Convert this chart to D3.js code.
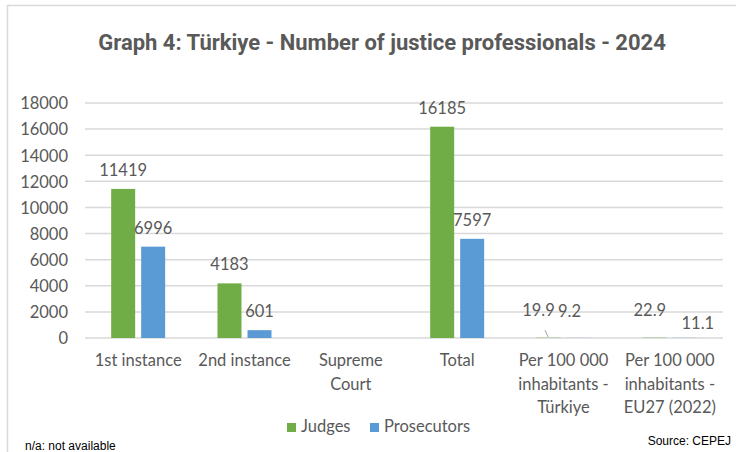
<!DOCTYPE html>
<html>
<head>
<meta charset="utf-8">
<style>
  body { margin: 0; background: #fff; }
  svg text { fill: #595959; }
  .tick text { font-family: Lato, "Open Sans", sans-serif; font-size: 16.5px; }
  .lbl { font-family: Lato, "Open Sans", sans-serif; font-size: 16.5px; }
  .note { font-family: "Liberation Sans", Arial, sans-serif; font-size: 12px; fill: #000 !important; }
</style>
</head>
<body>
<svg width="736" height="452"></svg>
<script src="https://d3js.org/d3.v7.min.js"></script>
<script>
// data
var categories = ["1st instance", "2nd instance", "Supreme Court", "Total",
                  "Per 100 000 inhabitants - Türkiye", "Per 100 000 inhabitants - EU27 (2022)"];
var categoryLines = [["1st instance"], ["2nd instance"], ["Supreme", "Court"], ["Total"],
                     ["Per 100 000", "inhabitants -", "Türkiye"], ["Per 100 000", "inhabitants -", "EU27 (2022)"]];
var judges = [11419, 4183, null, 16185, 19.9, 22.9];
var prosecutors = [6996, 601, null, 7597, 9.2, 11.1];
var seriesNames = ["Judges", "Prosecutors"];
var yTicks = [0, 2000, 4000, 6000, 8000, 10000, 12000, 14000, 16000, 18000];

var colors = ["#70AD47", "#5B9BD5"];

var svg = d3.select("svg");

// outer frame
svg.append("rect")
    .attr("x", 7.5).attr("y", 5.5)
    .attr("width", 740).attr("height", 460)
    .attr("fill", "none")
    .attr("stroke", "#d9d9d9")
    .attr("stroke-width", 1.5);

svg.append("text")
    .attr("x", 382)
    .attr("y", 50)
    .attr("text-anchor", "middle")
    .style("font-family", "Roboto, sans-serif")
    .style("font-size", "22px")
    .style("font-weight", "bold")
    .text("Graph 4: Türkiye - Number of justice professionals - 2024");

var pLeft = 85, pRight = 723, pTop = 103, pBottom = 338;

var x = d3.scaleBand().domain(categories).range([pLeft, pRight]);
var y = d3.scaleLinear().domain([0, 18000]).range([pBottom, pTop]);

// gridlines
svg.append("g").selectAll("line")
    .data(yTicks)
    .enter().append("line")
    .attr("x1", pLeft).attr("x2", pRight)
    .attr("y1", function (d) { return y(d); })
    .attr("y2", function (d) { return y(d); })
    .attr("stroke", "#d9d9d9")
    .attr("stroke-width", 1.5);

// y axis (labels only)
var yAxis = svg.append("g")
    .attr("transform", "translate(" + (pLeft - 17) + ",0)")
    .call(d3.axisLeft(y).tickValues(yTicks).tickSize(0).tickPadding(0).tickFormat(d3.format("d")));
yAxis.select(".domain").remove();
yAxis.selectAll("text").attr("dy", "0.35em");

// x axis labels
var xAxis = svg.append("g")
    .attr("transform", "translate(0," + pBottom + ")")
    .call(d3.axisBottom(x).tickSize(0).tickFormat(""));
xAxis.select(".domain").remove();
xAxis.selectAll(".tick").each(function (d, i) {
    var t = d3.select(this).append("text")
        .attr("class", "lbl")
        .attr("text-anchor", "middle")
        .attr("y", 28);
    categoryLines[i].forEach(function (line, j) {
        t.append("tspan").attr("x", 0).attr("dy", j === 0 ? 0 : 23.5).text(line);
    });
});

var barW = 24, gap = 6;
var series = [judges, prosecutors];
// label tweaks for the small per-inhabitant values (dragged in the original)
var labelShift = {
    "0-4": [-10, -9], "1-4": [-9, -8], "0-5": [-5, -9], "1-5": [13, 4]
};

series.forEach(function (vals, s) {
    var offset = s === 0 ? -gap / 2 - barW : gap / 2;
    var rows = vals.map(function (v, i) { return { v: v, i: i, c: categories[i] }; })
        .filter(function (d) { return d.v !== null; });

    svg.append("g").selectAll("rect")
        .data(rows)
        .enter().append("rect")
        .attr("x", function (d) { return x(d.c) + x.bandwidth() / 2 + offset; })
        .attr("y", function (d) { return y(d.v); })
        .attr("width", barW)
        .attr("height", function (d) { return pBottom - y(d.v); })
        .attr("fill", colors[s]);

    svg.append("g").selectAll("text")
        .data(rows)
        .enter().append("text")
        .attr("class", "lbl")
        .attr("text-anchor", "middle")
        .attr("x", function (d) {
            var sh = labelShift[s + "-" + d.i] || [0, 0];
            return x(d.c) + x.bandwidth() / 2 + offset + barW / 2 + sh[0];
        })
        .attr("y", function (d) {
            var sh = labelShift[s + "-" + d.i] || [0, 0];
            return y(d.v) - 13 + sh[1];
        })
        .text(function (d) { return d.v; });
});

// leader line for 19.9
svg.append("line")
    .attr("x1", 545).attr("y1", 330)
    .attr("x2", 548).attr("y2", 337)
    .attr("stroke", "#a6a6a6");

// legend
var legend = svg.append("g").attr("transform", "translate(287,423)");
var legX = [0, 83];
seriesNames.forEach(function (n, i) {
    legend.append("rect")
        .attr("x", legX[i]).attr("y", 0)
        .attr("width", 9).attr("height", 9)
        .attr("fill", colors[i]);
    legend.append("text")
        .attr("class", "lbl")
        .attr("x", legX[i] + 14).attr("y", 9)
        .text(n);
});

svg.append("text").attr("class", "note")
    .attr("x", 25).attr("y", 450)
    .text("n/a: not available");
svg.append("text").attr("class", "note")
    .attr("x", 731).attr("y", 445)
    .attr("text-anchor", "end")
    .text("Source: CEPEJ");
</script>
</body>
</html>
